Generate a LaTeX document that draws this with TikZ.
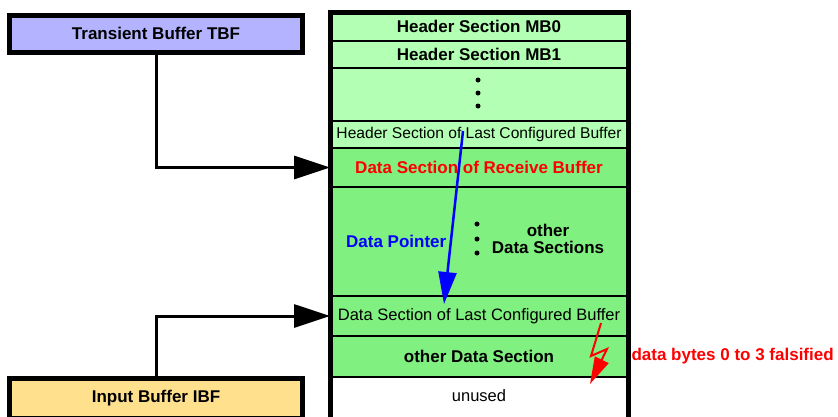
\documentclass[tikz,border=0pt]{standalone}
\usepackage{fontspec}
\setmainfont{Liberation Sans}
\usetikzlibrary{arrows.meta,positioning}

\definecolor{hdrgreen}{RGB}{179,255,179}
\definecolor{datagreen}{RGB}{128,240,128}
\definecolor{tbfblue}{RGB}{179,179,255}
\definecolor{ibforange}{RGB}{255,224,140}

\newcommand{\bigbold}{\fontsize{17}{17}\selectfont\bfseries}
\newcommand{\bigplain}{\fontsize{16.5}{17}\selectfont}

\begin{document}
\begin{tikzpicture}[
    x=1pt, y=-1pt,
    buffer/.style={rectangle, draw, line width=5pt, minimum width=293pt, inner sep=0pt, outer sep=0pt, font=\bigbold},
    section/.style={rectangle, draw, line width=1.4pt, minimum width=298pt, inner sep=0pt, outer sep=0pt, font=\bigbold},
    header/.style={section, fill=hdrgreen},
    data/.style={section, fill=datagreen},
    arrow/.style={line width=3pt, -{Triangle[length=36pt,width=23pt]}},
    pointer/.style={blue, line width=2.5pt, -{Triangle[length=32pt,width=18pt]}},
    flash/.style={red, line width=2pt, line join=miter, -{Triangle[length=27pt,width=15pt]}}
]
\useasboundingbox (0,0) rectangle (838,416);

% Header sections
\node[header, minimum height=28.5pt, anchor=north] (mb0) at (479,12.5) {Header Section MB0};
\node[header, minimum height=27pt, below=0pt of mb0] (mb1) {Header Section MB1};
\node[header, minimum height=53pt, below=0pt of mb1] (hdrdots) {};
\node[header, minimum height=27pt, below=0pt of hdrdots, font=\fontsize{15.6}{16}\selectfont] (hdrlast) {Header Section of Last Configured Buffer};

% Data sections
\node[data, minimum height=39pt, below=0pt of hdrlast, text=red] (recv) {Data Section of Receive Buffer};
\node[data, minimum height=109pt, below=0pt of recv] (datadots) {};
\node[data, minimum height=40pt, below=0pt of datadots, font=\bigplain] (datalast) {Data Section of Last Configured Buffer};
\node[data, minimum height=41pt, below=0pt of datalast] (otherdata) {other Data Section};
\node[section, minimum height=48pt, below=0pt of otherdata, fill=white, font=\bigplain, text depth=10pt] (unused) {unused};

% Frame
\draw[line width=5pt] (mb0.north west) rectangle (unused.south east);

% Dots
\foreach \y in {80,93,106} \fill (478,\y) circle (2.5pt);
\foreach \y in {224,239,253} \fill (477,\y) circle (2.5pt);
\node[font=\bigbold, align=center] (othersecs) at (548,239) {other\\Data Sections};

% Buffers on the left
\node[buffer, fill=tbfblue, minimum height=37pt] (tbf) at (156,33.5) {Transient Buffer TBF};
\node[buffer, fill=ibforange, minimum height=40pt, anchor=north] (ibf) at (156,378.5) {Input Buffer IBF};

% Connections
\draw[arrow] (tbf.south) |- (recv.west);
\draw[arrow] (ibf.north) |- (datalast.west);

% Data pointer
\coordinate (ptrstart) at (463,131);
\coordinate (ptrend) at (444,304);
\draw[pointer] (ptrstart) -- node[pos=0.64, left, font=\bigbold, text=blue] (ptrlabel) {Data Pointer} (ptrend);

% Falsified bytes
\coordinate (flashtop) at (601,323);
\coordinate (flashmid) at (591,356);
\coordinate (flashback) at (607,349);
\coordinate (flashend) at (590,384);
\draw[flash] (flashtop) -- (flashmid) -- (flashback) -- (flashend);
\node[right=0pt of otherdata, font=\bigbold, text=red] (falsified) {data bytes 0 to 3 falsified};

\end{tikzpicture}
\end{document}
